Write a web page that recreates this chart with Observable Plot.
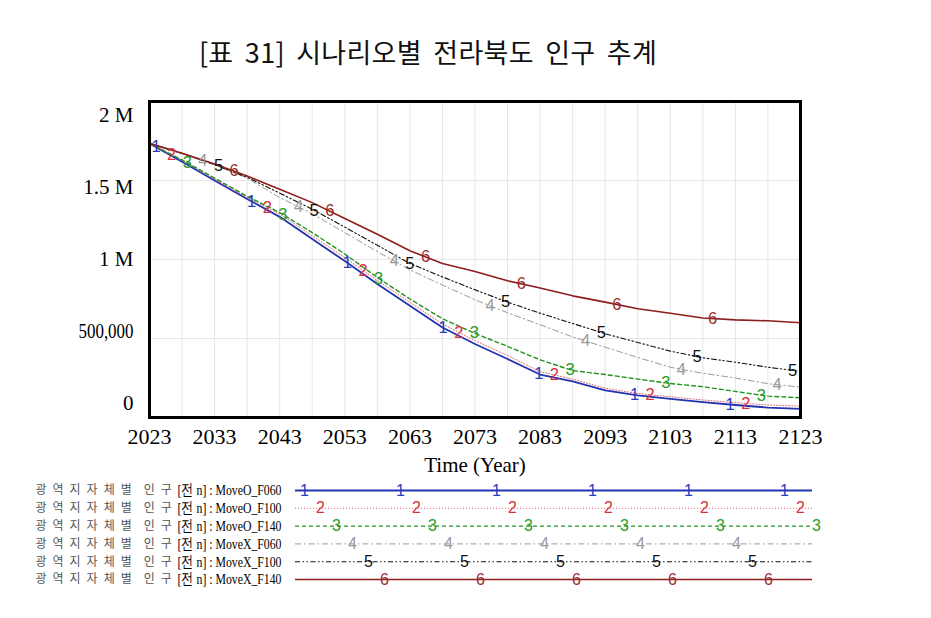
<!DOCTYPE html>
<html><head><meta charset="utf-8">
<script src="https://cdn.jsdelivr.net/npm/d3@7"></script>
<script src="https://cdn.jsdelivr.net/npm/@observablehq/plot@0.6"></script>
<style>
body{margin:0;background:#fff;width:931px;height:618px;overflow:hidden;position:relative}
#title{position:absolute;left:0;top:36px;width:856px;text-align:center;font-family:"Noto Sans CJK KR","Noto Sans",sans-serif;font-size:27px;line-height:32px;color:#111;letter-spacing:0.3px;word-spacing:5px}
#chart{position:absolute;left:0;top:80px}
#legend{position:absolute;left:0;top:480px}
</style></head><body>
<div id="title">[표 31] 시나리오별 전라북도 인구 추계</div>
<div id="chart"></div>
<div id="legend"></div>
<script>
// ---- data (population in millions) ----
const years = [2023,2028,2033,2038,2043,2048,2053,2058,2063,2068,2073,2078,2083,2088,2093,2098,2103,2108,2113,2118,2123];
const moveO_F060 = [1.735,1.619,1.500,1.383,1.270,1.130,0.990,0.845,0.707,0.570,0.465,0.370,0.272,0.228,0.172,0.140,0.118,0.097,0.079,0.063,0.055];
const moveO_F100 = [1.735,1.627,1.508,1.392,1.288,1.150,1.012,0.867,0.729,0.592,0.487,0.392,0.290,0.243,0.185,0.152,0.131,0.111,0.094,0.079,0.072];
const moveO_F140 = [1.735,1.630,1.515,1.400,1.297,1.170,1.035,0.886,0.750,0.625,0.532,0.450,0.365,0.297,0.272,0.243,0.215,0.195,0.165,0.135,0.125];
const moveX_F060 = [1.735,1.670,1.600,1.515,1.392,1.290,1.170,1.050,0.935,0.838,0.745,0.663,0.587,0.510,0.445,0.380,0.318,0.280,0.250,0.214,0.192];
const moveX_F100 = [1.735,1.672,1.600,1.520,1.420,1.318,1.205,1.090,0.975,0.890,0.808,0.730,0.660,0.595,0.530,0.475,0.420,0.378,0.350,0.318,0.292];
const moveX_F140 = [1.735,1.673,1.605,1.528,1.445,1.360,1.260,1.160,1.055,0.975,0.924,0.865,0.820,0.770,0.730,0.688,0.660,0.630,0.618,0.612,0.600];

const seriesNames = ["MoveO_F060","MoveO_F100","MoveO_F140","MoveX_F060","MoveX_F100","MoveX_F140"];
const seriesValues = [moveO_F060, moveO_F100, moveO_F140, moveX_F060, moveX_F100, moveX_F140];
const seriesLabels = ["1","2","3","4","5","6"];

const xTicks = [2023,2033,2043,2053,2063,2073,2083,2093,2103,2113,2123];
const yTicks = [0, 0.5, 1, 1.5, 2];
const yTickLabels = ["0","500,000","1 M","1.5 M","2 M"];
const xLabel = "Time (Year)";
const legendPrefix = "광\u2002역\u2002지\u2002자\u2002체\u2002별\u2002\u2002인\u2002구";
const legendMid = "[전 n] : ";

// ---- styles ----
const styles = [
  {stroke:"#2233b0", strokeWidth:1.8, dash:null, text:"#2a3bb8"},
  {stroke:"#e0606c", strokeWidth:1, dash:"1,2", text:"#d8303f"},
  {stroke:"#23921f", strokeWidth:1.4, dash:"4,3", text:"#2a9a2a"},
  {stroke:"#9a9a9a", strokeWidth:1, dash:"6,3,1.5,3", text:"#9a9a9a"},
  {stroke:"#111111", strokeWidth:1.1, dash:"5,2.5,1.5,2.5,1.5,2.5", text:"#111111"},
  {stroke:"#8e1d1d", strokeWidth:1.6, dash:null, text:"#9b2a2a"}
];

const rows = [];
seriesNames.forEach((s, i) => years.forEach((y, j) => rows.push({series: s, year: y, value: seriesValues[i][j]})));

function valueAt(vals, yr) {
  const i = Math.min(years.length - 2, Math.max(0, Math.floor((yr - years[0]) / 5)));
  const t = (yr - years[i]) / (years[i+1] - years[i]);
  return vals[i] + t * (vals[i+1] - vals[i]);
}
const markers = [];
seriesNames.forEach((s, i) => {
  for (let yr = 2024 + 2.4 * i; yr <= 2122.5; yr += 14.7) {
    markers.push({series: s, year: yr, value: valueAt(seriesValues[i], yr), label: seriesLabels[i]});
  }
});

const serif = "'Liberation Serif','Times New Roman',serif";
const sans = "'Liberation Sans',Arial,sans-serif";

const lineMarks = seriesNames.map((s, i) => Plot.line(rows.filter(d => d.series === s), {
  x: "year", y: "value", stroke: styles[i].stroke, strokeWidth: styles[i].strokeWidth,
  strokeDasharray: styles[i].dash || undefined
}));
const markerMarks = seriesNames.map((s, i) => Plot.text(markers.filter(d => d.series === s), {
  x: "year", y: "value", text: "label", fill: styles[i].text, fontSize: 16.5, fontFamily: sans
}));

const chart = Plot.plot({
  width: 931, height: 400,
  marginTop: 21, marginBottom: 63, marginLeft: 149, marginRight: 131,
  style: {background: "white", overflow: "visible"},
  x: {domain: [2023, 2123], label: null},
  y: {domain: [0, 2], label: null},
  marks: [
    Plot.gridX(d3.range(2023, 2124, 5), {stroke: "#e6e6e6", strokeOpacity: 1}),
    Plot.gridY(yTicks, {stroke: "#e6e6e6", strokeOpacity: 1}),
    ...lineMarks,
    ...markerMarks,
    Plot.frame({stroke: "black", strokeWidth: 3}),
    Plot.axisX(xTicks, {tickSize: 0, tickPadding: 11, fontSize: 22, fontFamily: serif, fill: "#000",
      tickFormat: d => String(d), label: null}),
    Plot.text([xLabel], {frameAnchor: "bottom", lineAnchor: "middle", text: d => d, dy: 48, fontSize: 21, fontFamily: serif, fill: "#000"}),
    ...yTicks.map((t, i) => Plot.axisY([t], {tickSize: 0, tickPadding: 16, fontSize: 21, fontFamily: serif, fill: "#000",
      tickFormat: () => yTickLabels[i], dy: 14 * t - 14, label: null}))
  ]
});
document.getElementById("chart").append(chart);
// condense the "500,000" label like the reference
d3.select(chart).selectAll("text").filter(function() { return this.textContent === "500,000"; })
  .attr("textLength", 55).attr("lengthAdjust", "spacingAndGlyphs");

// ---- legend ----
const legRows = seriesNames.map((s, i) => ({series: s, i, y: 10 + 17.8 * i}));
const legMarkers = [];
seriesNames.forEach((s, i) => {
  for (let x = 304 + 16 * i; x <= 817; x += 96) legMarkers.push({x, y: 10 + 17.8 * i, label: seriesLabels[i], i});
});
const legend = Plot.plot({
  width: 931, height: 110, margin: 0,
  x: {type: "identity", axis: null}, y: {type: "identity", axis: null},
  style: {background: "white"},
  marks: [
    Plot.text(legRows, {x: 35, y: "y", text: () => legendPrefix, textAnchor: "start", fontSize: 12,
      fontFamily: "'Noto Sans CJK KR',sans-serif", fill: "#555"}),
    Plot.text(legRows, {x: 281, y: "y", text: d => legendMid + d.series, textAnchor: "end", fontSize: 15.5,
      fontFamily: serif, fill: "#000"}),
    ...seriesNames.map((s, i) => Plot.ruleY([legRows[i]], {y: "y", x1: 295, x2: 812,
      stroke: styles[i].stroke, strokeWidth: styles[i].strokeWidth, strokeDasharray: styles[i].dash || undefined})),
    ...seriesNames.map((s, i) => Plot.text(legMarkers.filter(d => d.i === i), {x: "x", y: "y", text: "label",
      fill: styles[i].text, fontSize: 16, fontFamily: sans}))
  ]
});
document.getElementById("legend").append(legend);
d3.select(legend).selectAll("text").filter(function() { return this.textContent.startsWith("[전"); })
  .attr("textLength", 104).attr("lengthAdjust", "spacingAndGlyphs");
</script>
</body></html>
